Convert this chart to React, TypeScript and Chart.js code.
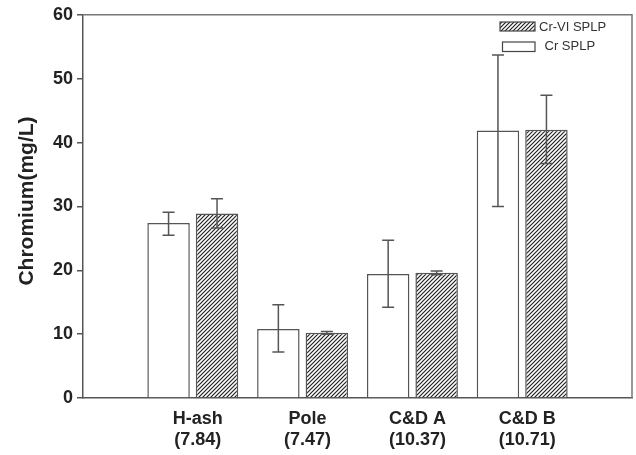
import React, { useEffect, useRef } from "react";
import { Chart, registerables } from "chart.js";

Chart.register(...registerables);

const categories = ["", "H-ash", "Pole", "C&D A", "C&D B", ""];
const phLabels = ["", "(7.84)", "(7.47)", "(10.37)", "(10.71)", ""];

const crSplp = [null, 27.4, 10.8, 19.4, 41.9, null];
const crSplpLow = [null, 25.5, 7.2, 14.2, 30.0, null];
const crSplpHigh = [null, 29.1, 14.6, 24.7, 53.7, null];

const crVISplp = [null, 28.9, 10.2, 19.6, 42.0, null];
const crVILow = [null, 26.6, 10.0, 19.3, 36.7, null];
const crVIHigh = [null, 31.2, 10.4, 19.9, 47.4, null];

const yTicks = [0, 10, 20, 30, 40, 50, 60];
const yTitle = "Chromium(mg/L)";

const FONT = "'Liberation Sans', Arial, Helvetica, sans-serif";

function makeHatch(): CanvasPattern | string {
  const c = document.createElement("canvas");
  c.width = 4;
  c.height = 4;
  const g = c.getContext("2d");
  if (!g) return "#888";
  g.fillStyle = "#ffffff";
  g.fillRect(0, 0, 4, 4);
  g.strokeStyle = "#222";
  g.lineWidth = 1.2;
  g.beginPath();
  g.moveTo(-1, 5);
  g.lineTo(5, -1);
  g.moveTo(-3, 3);
  g.lineTo(3, -3);
  g.moveTo(1, 7);
  g.lineTo(7, 1);
  g.stroke();
  const p = g.createPattern(c, "repeat");
  return p || "#888";
}

export default function App() {
  const ref = useRef<HTMLCanvasElement | null>(null);

  useEffect(() => {
    if (!ref.current) return;
    const hatch = makeHatch();
    const errLow = [crSplpLow, crVILow];
    const errHigh = [crSplpHigh, crVIHigh];

    const errorBars = {
      id: "errorBars",
      afterDatasetsDraw(chart: any) {
        const ctx = chart.ctx;
        const ys = chart.scales.y;
        ctx.save();
        ctx.strokeStyle = "#555";
        ctx.lineWidth = 1.5;
        chart.data.datasets.forEach((_ds: any, di: number) => {
          const meta = chart.getDatasetMeta(di);
          meta.data.forEach((el: any, i: number) => {
            const lo = errLow[di][i];
            const hi = errHigh[di][i];
            if (lo == null || hi == null) return;
            const x = el.x;
            const y1 = ys.getPixelForValue(lo);
            const y2 = ys.getPixelForValue(hi);
            const cw = 6;
            ctx.beginPath();
            ctx.moveTo(x, y1);
            ctx.lineTo(x, y2);
            ctx.moveTo(x - cw, y1);
            ctx.lineTo(x + cw, y1);
            ctx.moveTo(x - cw, y2);
            ctx.lineTo(x + cw, y2);
            ctx.stroke();
          });
        });
        ctx.restore();
      },
    };

    const frameAndLegend = {
      id: "frameAndLegend",
      afterDraw(chart: any) {
        const ctx = chart.ctx;
        const a = chart.chartArea;
        ctx.save();
        ctx.strokeStyle = "#777";
        ctx.lineWidth = 1.5;
        ctx.beginPath();
        ctx.moveTo(a.left, a.top);
        ctx.lineTo(a.right, a.top);
        ctx.lineTo(a.right, a.bottom);
        ctx.stroke();

        // y title
        ctx.save();
        ctx.translate(27.5, 201);
        ctx.rotate(-Math.PI / 2);
        ctx.fillStyle = "#222";
        ctx.font = `bold 21px ${FONT}`;
        ctx.textAlign = "center";
        ctx.textBaseline = "middle";
        ctx.fillText(yTitle, 0, 0);
        ctx.restore();

        // legend
        ctx.lineWidth = 1.2;
        ctx.strokeStyle = "#444";
        ctx.fillStyle = hatch as any;
        ctx.fillRect(500, 22, 35, 9);
        ctx.strokeRect(500, 22, 35, 9);
        ctx.fillStyle = "#fff";
        ctx.fillRect(502.5, 42, 32.5, 9.5);
        ctx.strokeRect(502.5, 42, 32.5, 9.5);
        ctx.fillStyle = "#333";
        ctx.font = `13px ${FONT}`;
        ctx.textBaseline = "middle";
        ctx.textAlign = "left";
        ctx.fillText("Cr-VI SPLP", 539, 27);
        ctx.fillText("Cr SPLP", 544.5, 46.5);
        ctx.restore();
      },
    };

    const chart = new Chart(ref.current, {
      type: "bar",
      data: {
        labels: categories.map((c, i) => (c ? [c, phLabels[i]] : "")),
        datasets: [
          {
            label: "Cr SPLP",
            data: crSplp as any,
            backgroundColor: "#ffffff",
            borderColor: "#555",
            borderWidth: 1.5,
            categoryPercentage: 0.883,
            barPercentage: 0.876,
          },
          {
            label: "Cr-VI SPLP",
            data: crVISplp as any,
            backgroundColor: hatch as any,
            borderColor: "#555",
            borderWidth: 1.5,
            categoryPercentage: 0.883,
            barPercentage: 0.876,
          },
        ],
      },
      options: {
        animation: false,
        responsive: false,
        maintainAspectRatio: false,
        layout: { padding: { left: 0, top: 14, right: 4, bottom: 0 } },
        plugins: {
          legend: { display: false },
          tooltip: { enabled: false },
        },
        scales: {
          x: {
            type: "category",
            offset: false,
            grid: { display: false, drawTicks: false },
            border: { display: true, color: "#555", width: 1.5 },
            ticks: {
              autoSkip: false,
              maxRotation: 0,
              minRotation: 0,
              labelOffset: 5,
              padding: 10,
              color: "#222",
              font: { family: FONT, size: 18, weight: "bold", lineHeight: 1.2 },
            },
            afterFit(scale: any) {
              scale.height = 57;
              scale.paddingLeft = 0;
              scale.paddingRight = 0;
            },
          },
          y: {
            min: 0,
            max: 60,
            grid: {
              drawOnChartArea: false,
              drawTicks: true,
              tickLength: 6,
              color: "#555",
              lineWidth: 1.5,
            },
            border: { display: true, color: "#555", width: 1.5 },
            afterBuildTicks(scale: any) {
              scale.ticks = yTicks.map((v) => ({ value: v }));
            },
            ticks: {
              padding: 4,
              color: "#222",
              font: { family: FONT, size: 18, weight: "bold" },
            },
            title: { display: false },
            afterFit(scale: any) {
              scale.width = 83;
            },
          },
        },
      },
      plugins: [errorBars, frameAndLegend],
    } as any);

    return () => chart.destroy();
  }, []);

  return (
    <div style={{ position: "fixed", left: 0, top: 0, width: 636, height: 455, background: "#fff" }}>
      <canvas ref={ref} width={636} height={455} style={{ width: 636, height: 455 }} />
    </div>
  );
}
